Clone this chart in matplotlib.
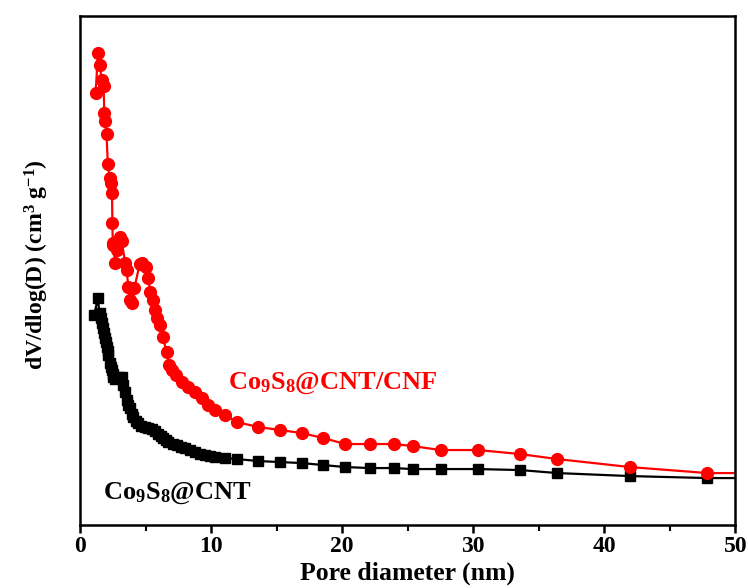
import matplotlib
matplotlib.use("Agg")
import matplotlib.pyplot as plt

plt.rcParams['font.family'] = ['Liberation Serif', 'DejaVu Serif']
plt.rcParams['font.weight'] = 'bold'
plt.rcParams['mathtext.fontset'] = 'custom'
plt.rcParams['mathtext.rm'] = 'Liberation Serif:bold'
plt.rcParams['mathtext.it'] = 'Liberation Serif:bold'
plt.rcParams['mathtext.bf'] = 'Liberation Serif:bold'

# Co9S8@CNT/CNF (red circles)
red_x = [1.19, 1.37, 1.53, 1.64, 1.80, 1.85, 1.91, 2.02, 2.12, 2.26, 2.34, 2.44, 2.47,
         2.50, 2.55, 2.67, 2.80, 3.05, 3.18, 3.44, 3.56, 3.68, 3.82, 3.95, 4.15, 4.55,
         4.75, 5.06, 5.21, 5.34, 5.55, 5.73, 5.90, 6.11, 6.31, 6.61, 6.76, 7.05, 7.33,
         7.76, 8.27, 8.78, 9.29, 9.80, 10.31, 11.07, 11.96, 13.61, 15.27, 16.92, 18.57,
         20.24, 22.11, 23.92, 25.38, 27.51, 30.38, 33.59, 36.41, 41.96, 47.86, 55.0]
red_y = [0.432, 0.472, 0.460, 0.445, 0.439, 0.412, 0.404, 0.391, 0.361, 0.347, 0.342, 0.332, 0.302,
         0.280, 0.282, 0.262, 0.275, 0.288, 0.284, 0.262, 0.255, 0.238, 0.225, 0.222, 0.237, 0.261,
         0.262, 0.258, 0.247, 0.233, 0.225, 0.215, 0.207, 0.200, 0.188, 0.173, 0.160, 0.155, 0.150,
         0.143, 0.138, 0.133, 0.127, 0.120, 0.115, 0.110, 0.103, 0.098, 0.095, 0.092, 0.087,
         0.081, 0.081, 0.081, 0.079, 0.075, 0.075, 0.071, 0.066, 0.058, 0.052, 0.052]

# Co9S8@CNT (black squares)
blk_x = [1.09, 1.35, 1.49, 1.60, 1.69, 1.78, 1.85, 1.91, 1.97, 2.04, 2.10, 2.16, 2.25, 2.34,
         2.42, 2.48, 2.54, 2.67, 2.82, 2.98, 3.09, 3.18, 3.31, 3.44, 3.56, 3.69, 3.82, 3.95,
         4.07, 4.24, 4.45, 4.69, 4.96, 5.21, 5.47, 5.73, 5.98, 6.17, 6.36, 6.55, 6.74, 7.06,
         7.38, 7.71, 8.02, 8.40, 8.78, 9.16, 9.54, 9.92, 10.31, 11.07, 11.96, 13.61, 15.27,
         16.92, 18.57, 20.24, 22.11, 23.92, 25.38, 27.51, 30.38, 33.59, 36.41, 41.96, 47.86, 55.0]
blk_y = [0.210, 0.227, 0.212, 0.207, 0.202, 0.197, 0.192, 0.187, 0.183, 0.178, 0.174, 0.170, 0.162, 0.158,
         0.155, 0.151, 0.148, 0.146, 0.147, 0.148, 0.147, 0.148, 0.140, 0.133, 0.125, 0.120, 0.117, 0.111,
         0.108, 0.104, 0.102, 0.099, 0.098, 0.097, 0.096, 0.094, 0.091, 0.089, 0.087, 0.085, 0.083, 0.081,
         0.080, 0.078, 0.077, 0.075, 0.073, 0.071, 0.070, 0.069, 0.068, 0.067, 0.066, 0.064, 0.063,
         0.062, 0.060, 0.058, 0.057, 0.057, 0.056, 0.056, 0.056, 0.055, 0.052, 0.049, 0.047, 0.047]

xticks = [0, 10, 20, 30, 40, 50]

fig = plt.figure(figsize=(7.48, 5.88), dpi=100)
ax = fig.add_axes([0.107, 0.107, 0.876, 0.866])

ax.plot(blk_x, blk_y, color='black', lw=1.6, marker='s', ms=7, mec='black', mfc='black')
ax.plot(red_x, red_y, color='red', lw=1.6, marker='o', ms=8.5, mec='red', mfc='red')

ax.set_xlim(0, 50)
ax.set_ylim(0, 0.509)
ax.set_xticks(xticks)
ax.set_xticks([5, 15, 25, 35, 45], minor=True)
ax.set_yticks([])
ax.tick_params(axis='x', which='major', direction='out', length=6, width=1.8, labelsize=17, pad=2)
ax.tick_params(axis='x', which='minor', direction='out', length=4, width=1.5)
for lab in ax.get_xticklabels():
    lab.set_fontweight('bold')
for s in ax.spines.values():
    s.set_linewidth(1.8)

ax.set_xlabel('Pore diameter (nm)', fontsize=18.5, fontweight='bold')
ax.xaxis.set_label_coords(0.5, -0.072)
fig.text(0.050, 1 - 265 / 588, r'dV/dlog(D) (cm$^{3}$ g$^{-1}$)', rotation=90,
         ha='center', va='center', fontsize=17, fontweight='bold')

ax.text(11.3, 0.142, r'Co$_{9}$S$_{8}$@CNT/CNF', color='red', fontsize=19, fontweight='bold', va='center')
ax.text(1.75, 0.032, r'Co$_{9}$S$_{8}$@CNT', color='black', fontsize=19, fontweight='bold', va='center')

fig.savefig('out.png', dpi=100)
